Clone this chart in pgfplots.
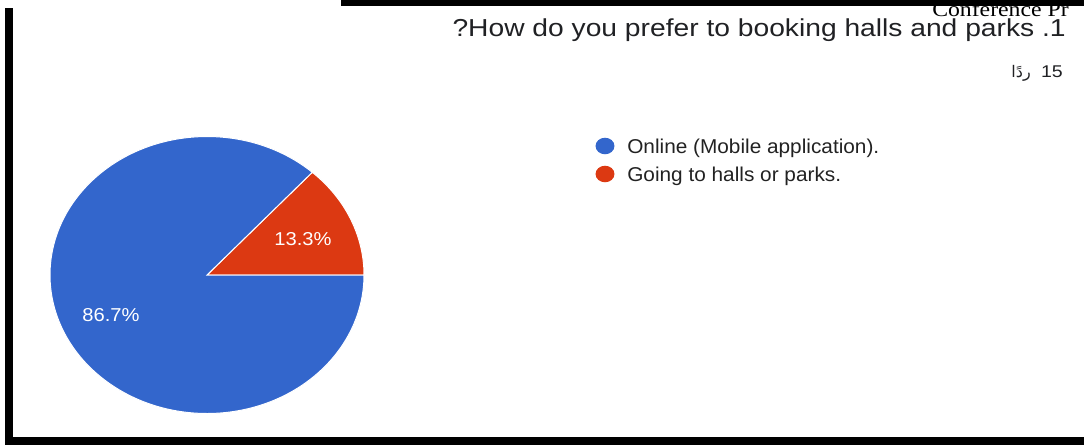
\documentclass[border=0pt]{standalone}
\usepackage{pgfplots}
\pgfplotsset{compat=1.18}
\usepackage{pgfplotstable}
\usepackage{graphicx}
\usepackage{fontspec}
\setmainfont{Liberation Sans}
\newfontfamily\serifrm{Liberation Serif}
\newfontfamily\arabicfont[Script=Arabic]{DejaVu Sans}
\TeXXeTstate=1
\definecolor{gblue}{HTML}{3366CC}
\definecolor{gred}{HTML}{DC3912}
\definecolor{gtext}{HTML}{202124}
\definecolor{gleg}{HTML}{222222}

\pgfplotstableread{
label value
Online 86.7
Going 13.3
}\piedata
\pgfplotstablegetelem{0}{value}\of\piedata\global\let\vblue\pgfplotsretval%
\pgfplotstablegetelem{1}{value}\of\piedata\global\let\vred\pgfplotsretval%
\pgfmathsetmacro\ared{3.6*\vred}%

\begin{document}%
\begin{tikzpicture}
\begin{axis}[width=813pt,height=333.75pt,scale only axis,
  xmin=0,xmax=1084,ymin=0,ymax=445,y dir=reverse,hide axis,clip=false]
\coordinate (BL) at (axis cs:0,445);
\coordinate (TR) at (axis cs:1084,0);
% pie (ellipse centre 207,275 ; radii 157 x 138.5 px)
\fill[gred,draw=white,line width=0.75pt] (axis cs:207,275) -- +(0:117.75pt and 103.875pt)
  arc[start angle=0,end angle=\ared,x radius=117.75pt,y radius=103.875pt] -- cycle;
\fill[gblue,draw=white,line width=0.75pt] (axis cs:207,275) -- +(\ared:117.75pt and 103.875pt)
  arc[start angle=\ared,end angle=360,x radius=117.75pt,y radius=103.875pt] -- cycle;
\node[anchor=base,inner sep=0pt,text=white,font=\fontsize{14}{16}\selectfont] at (axis cs:303,245) {\scalebox{1.08}[1]{13.3\%}};
\node[anchor=base,inner sep=0pt,text=white,font=\fontsize{14}{16}\selectfont] at (axis cs:111,321) {\scalebox{1.08}[1]{86.7\%}};
% legend
\fill[gblue] (axis cs:605,146) ellipse [x radius=7.1pt, y radius=6.2pt];
\fill[gred] (axis cs:605,174) ellipse [x radius=7.1pt, y radius=6.2pt];
\node[anchor=base west,inner sep=0pt,text=gleg,font=\fontsize{15}{18}\selectfont] at (axis cs:627,153.3) {\scalebox{1.04}[1]{Online (Mobile application).}};
\node[anchor=base west,inner sep=0pt,text=gleg,font=\fontsize{15}{18}\selectfont] at (axis cs:627,181) {\scalebox{1.04}[1]{Going to halls or parks.}};
% title and header
\node[anchor=base east,inner sep=0pt,text=gtext,font=\fontsize{18.4}{22}\selectfont] at (axis cs:1066,36.5) {\scalebox{1.15}[1]{?How do you prefer to booking halls and parks .1}};
\node[anchor=base west,inner sep=0pt,text=black,font=\serifrm\fontsize{15.75}{18}\selectfont] at (axis cs:932,16.5) {\scalebox{1.13}[1]{Conference Pr}};
\node[anchor=base east,inner sep=0pt,text=gtext,font=\fontsize{12.75}{15}\selectfont] at (axis cs:1063,77.5) {\scalebox{1.15}[1]{15}};
\node[anchor=base east,inner sep=0pt,text=gtext,font=\arabicfont\fontsize{12}{14}\selectfont] at (axis cs:1031,77.5) {\beginR ردًا\endR};
% frame bars
\fill[black] (axis cs:5,8) rectangle (axis cs:13,445);
\fill[black] (axis cs:341,0) rectangle (axis cs:1084,6);
\fill[black] (axis cs:5,437) rectangle (axis cs:1084,445);
\end{axis}
\pgfresetboundingbox
\path[use as bounding box] (BL) rectangle (TR);
\end{tikzpicture}%
\end{document}
